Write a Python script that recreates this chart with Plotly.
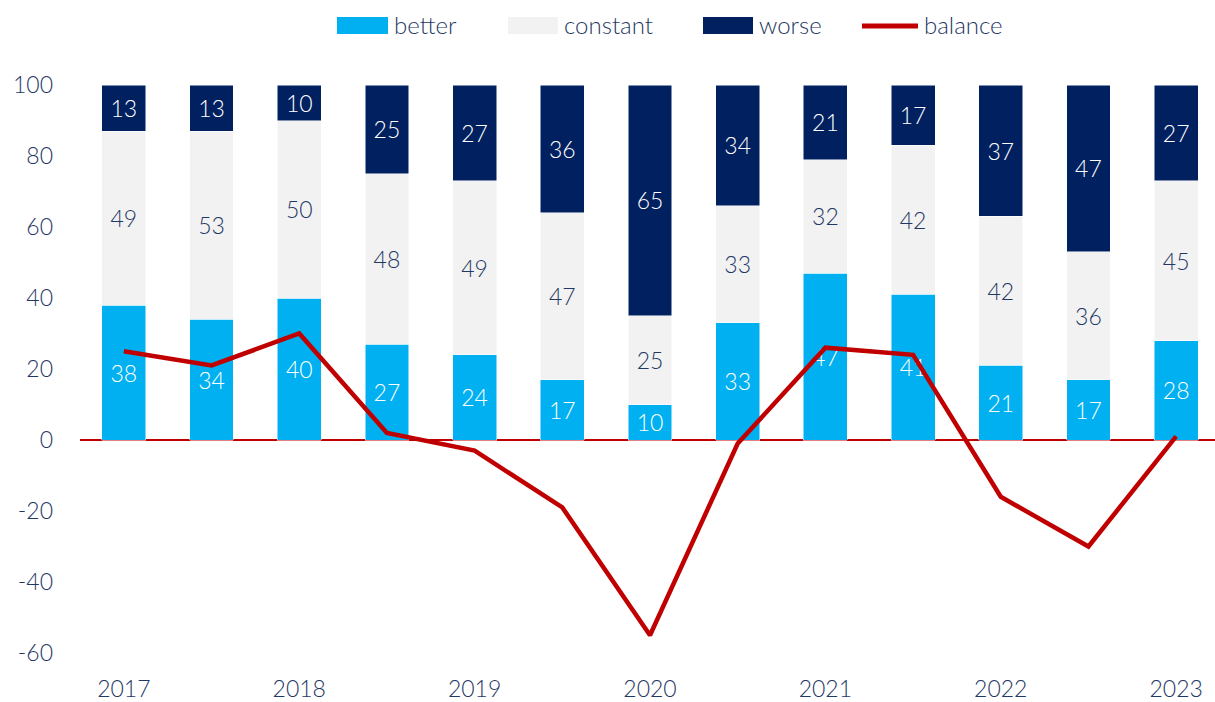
import plotly.graph_objects as go

periods = ["2017 H1", "2017 H2", "2018 H1", "2018 H2", "2019 H1", "2019 H2", "2020 H1",
           "2020 H2", "2021 H1", "2021 H2", "2022 H1", "2022 H2", "2023 H1"]
tick_labels = ["2017", "", "2018", "", "2019", "", "2020", "", "2021", "", "2022", "", "2023"]
y_ticks = [-60, -40, -20, 0, 20, 40, 60, 80, 100]
y_tick_labels = ["-60", "-40", "-20", "0", "20", "40", "60", "80", "100"]
better = [38, 34, 40, 27, 24, 17, 10, 33, 47, 41, 21, 17, 28]
constant = [49, 53, 50, 48, 49, 47, 25, 33, 32, 42, 42, 36, 45]
worse = [13, 13, 10, 25, 27, 36, 65, 34, 21, 17, 37, 47, 27]
balance = [25, 21, 30, 2, -3, -19, -55, -1, 26, 24, -16, -30, 1]

FONT = "Lato Light, Lato"
NAVY_TXT = "#1F3864"
C_BETTER = "#00B0F0"
C_CONST = "#F2F2F2"
C_WORSE = "#002060"
C_BAL = "#C00000"

W, H = 1215, 702
ML, MR, MT, MB = 80, 0, 85, 49

fig = go.Figure()
fig.add_bar(x=periods, y=better, name="better", marker=dict(color=C_BETTER, line=dict(color="white", width=0.5)),
            text=better, textposition="inside", insidetextanchor="middle",
            textfont=dict(color="white", size=23, family=FONT))
fig.add_bar(x=periods, y=constant, name="constant", marker=dict(color=C_CONST, line=dict(color="white", width=0.5)),
            text=constant, textposition="inside", insidetextanchor="middle",
            textfont=dict(color=NAVY_TXT, size=23, family=FONT))
fig.add_bar(x=periods, y=worse, name="worse", marker=dict(color=C_WORSE, line=dict(color="white", width=0.5)),
            text=worse, textposition="inside", insidetextanchor="middle",
            textfont=dict(color="white", size=23, family=FONT))
fig.add_scatter(x=periods, y=balance, name="balance", mode="lines",
                line=dict(color=C_BAL, width=4.5))

# custom legend drawn in pixel-derived paper coords
def px(x):
    return (x - ML) / (W - ML - MR)

def py(y):
    return (H - MB - y) / (H - MT - MB)

legend_items = [
    ("rect", C_BETTER, 337, 388, "better"),
    ("rect", C_CONST, 508, 558, "constant"),
    ("rect", C_WORSE, 703, 753, "worse"),
    ("line", C_BAL, 862, 918, "balance"),
]
shapes = []
annotations = []
for kind, col, x0, x1, label in legend_items:
    if kind == "rect":
        shapes.append(dict(type="rect", xref="paper", yref="paper", x0=px(x0), x1=px(x1),
                           y0=py(34), y1=py(17), fillcolor=col, line=dict(width=0)))
    else:
        shapes.append(dict(type="line", xref="paper", yref="paper", x0=px(x0), x1=px(x1),
                           y0=py(26), y1=py(26), line=dict(color=col, width=5)))
    annotations.append(dict(xref="paper", yref="paper", x=px(x1 + 4), y=py(25), text=label,
                            showarrow=False, xanchor="left", yanchor="middle",
                            font=dict(family=FONT, size=24, color=NAVY_TXT)))

fig.update_layout(
    barmode="stack",
    bargap=0.5,
    width=W, height=H,
    margin=dict(l=ML, r=MR, t=MT, b=MB),
    plot_bgcolor="white", paper_bgcolor="white",
    font=dict(family=FONT, size=22, color=NAVY_TXT),
    uniformtext=dict(mode="show", minsize=22),
    showlegend=False,
    shapes=shapes,
    annotations=annotations,
)
fig.update_xaxes(tickmode="array", tickvals=periods, ticktext=tick_labels, showgrid=False,
                 range=[-0.5, 12.443],
                 showline=False, ticks="", tickfont=dict(size=23, color=NAVY_TXT, family=FONT),
                 ticklabelstandoff=20, automargin=False)
fig.update_yaxes(range=[-60, 100], tickvals=y_ticks, ticktext=y_tick_labels, showgrid=False,
                 zeroline=True, zerolinecolor=C_BAL, zerolinewidth=2,
                 tickfont=dict(size=23, color=NAVY_TXT, family=FONT), ticklabelstandoff=26,
                 automargin=False)

fig.write_html("out.html", config={"displayModeBar": False},
               post_script="document.body.style.margin='0';")
